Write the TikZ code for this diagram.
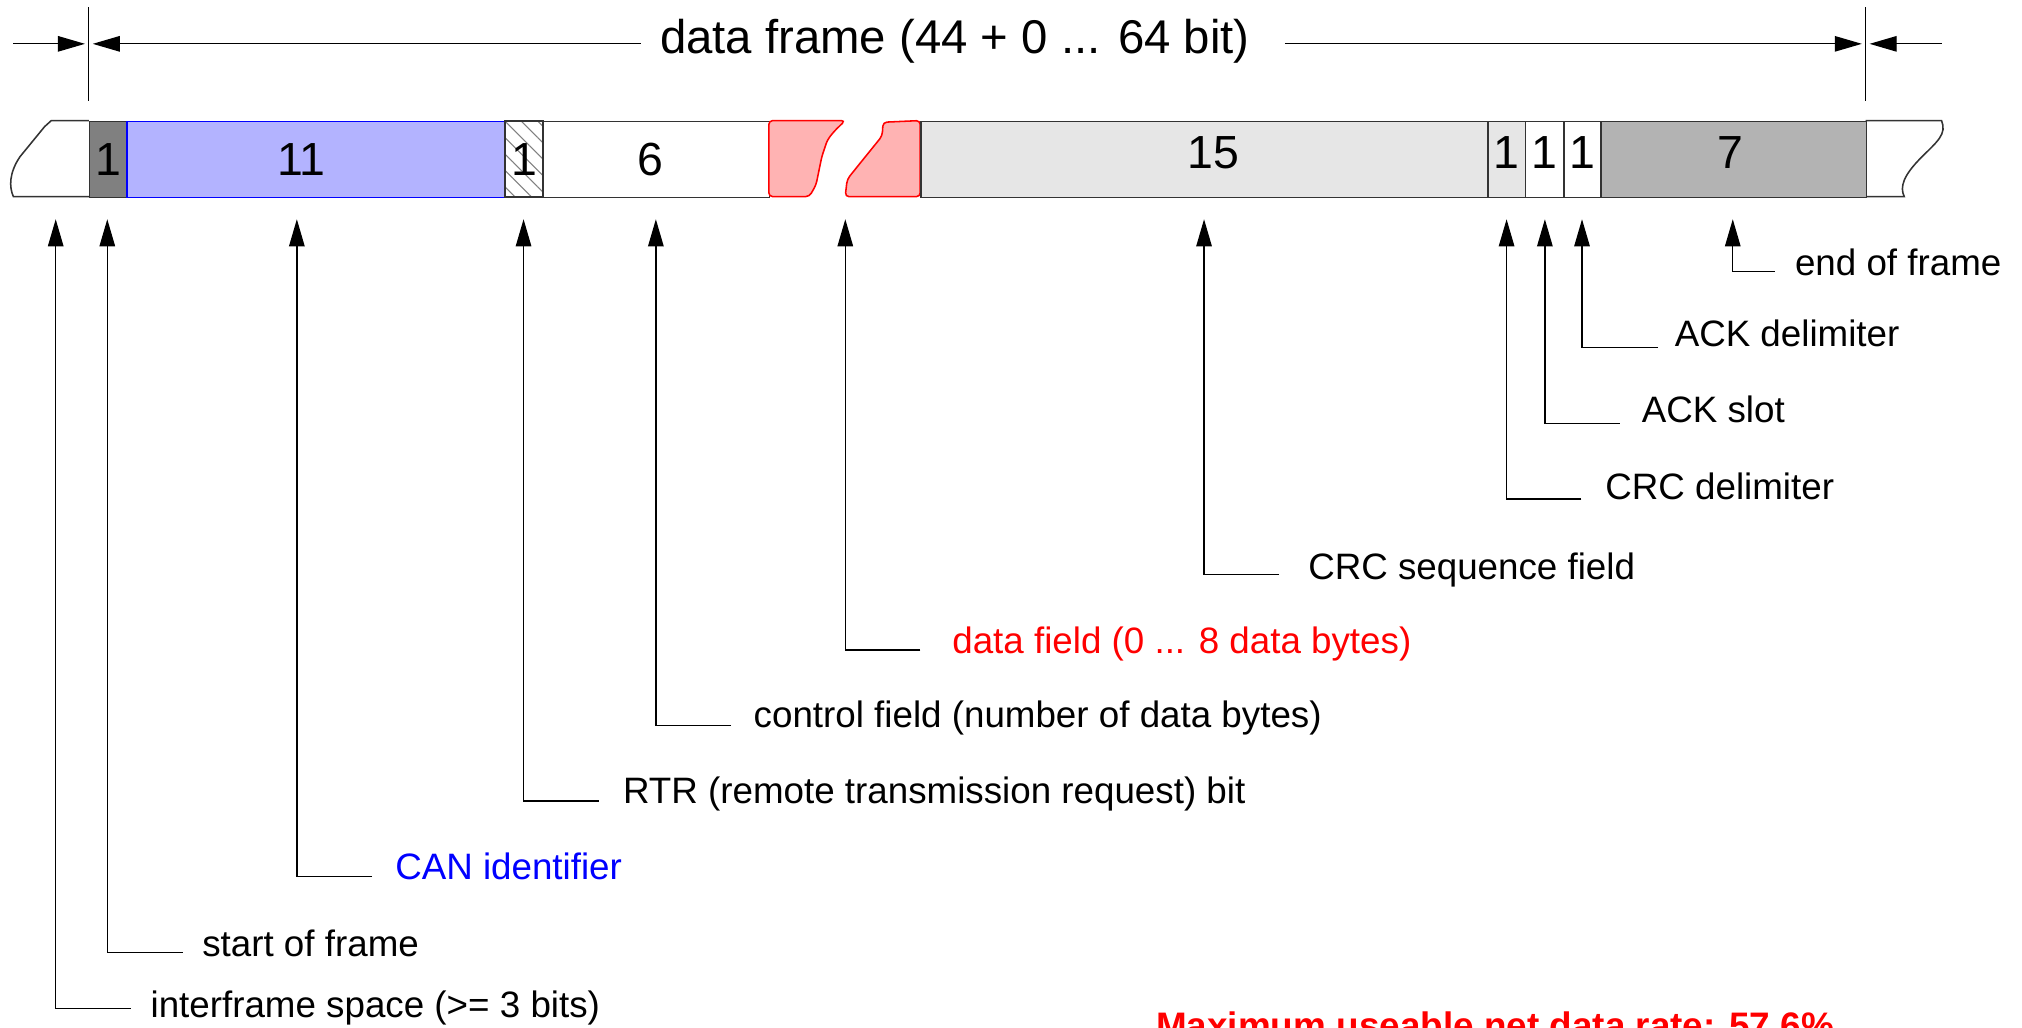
\documentclass[tikz,border=0pt]{standalone}
\usepackage{fontspec}
\setmainfont{Liberation Sans}
\usetikzlibrary{arrows.meta,patterns.meta}
\definecolor{sofgray}{HTML}{808080}
\definecolor{idfill}{HTML}{B3B3FF}
\definecolor{datafill}{HTML}{FFB3B3}
\definecolor{crcfill}{HTML}{E6E6E6}
\definecolor{eoffill}{HTML}{B3B3B3}
\definecolor{edge}{HTML}{333333}
\begin{document}
\begin{tikzpicture}[x=1pt,y=-1pt,
  field/.style={draw=edge,line width=1.2pt,inner sep=0pt,minimum height=59pt,anchor=north west,font=\fontsize{36}{40}\selectfont},
  lab/.style={anchor=base west,inner sep=0pt,font=\fontsize{28.5}{32}\selectfont},
  pointer/.style={draw=black,line width=1pt,-{Triangle[length=21pt,width=12pt]}},
  dimline/.style={line width=1pt,-{Triangle[length=21pt,width=12pt]}},
  tick/.style={line width=1pt}
]
\clip (0,0) rectangle (1568,797);
\fill[white] (0,0) rectangle (1568,797);

% ---- title dimension line ----
\node[inner sep=0pt,anchor=base,font=\fontsize{36.7}{40}\selectfont] (title) at (740.5,41.4) {data frame (44 + 0 ... 64 bit)};
\coordinate (tickLt) at (68.9,5.7);
\coordinate (tickLb) at (68.9,78.3);
\coordinate (tickRt) at (1446.8,5.7);
\coordinate (tickRb) at (1446.8,78.3);
\draw[tick] (tickLt) -- (tickLb);
\draw[tick] (tickRt) -- (tickRb);
\coordinate (dA0) at (10.4,34);   \coordinate (dA1) at (65.9,34);
\coordinate (dB0) at (496.8,34);  \coordinate (dB1) at (71.9,34);
\coordinate (dC0) at (996.4,34);  \coordinate (dC1) at (1443.8,34);
\coordinate (dD0) at (1505.6,34); \coordinate (dD1) at (1449.8,34);
\draw[dimline] (dA0) -- (dA1);
\draw[dimline] (dB0) -- (dB1);
\draw[dimline] (dC0) -- (dC1);
\draw[dimline] (dD0) -- (dD1);

% ---- frame bar ----
\draw[edge,line width=1.2pt,fill=white] (68.9,93.5) -- (39.8,93.5) -- (34.6,98.2) -- (15.6,121.4)
  .. controls (7,134) and (7,145) .. (10.4,152.5) -- (68.9,152.5);
\draw[edge,line width=1.2pt,fill=white] (1446.8,93.5) -- (1505.6,93.5)
  .. controls (1510,104) and (1502,110) .. (1490,122) .. controls (1476,136) and (1473,145) .. (1476.7,152.5) -- (1446.8,152.5);

\node[field,fill=sofgray,minimum width=29.1pt] (sof) at (68.9,93.5) {1};
\node[field,fill=idfill,draw=blue,minimum width=293.3pt] (id) at (98,93.5) {\hspace*{-23pt}11};
\node[field,preaction={fill=white},pattern={Lines[angle=-45,distance=9pt,line width=0.8pt]},pattern color=gray,minimum width=29.4pt] (rtr) at (391.3,93.5) {};
\node[font=\fontsize{36}{40}\selectfont,inner sep=0pt] (rtrnum) at (rtr.center) {1};
\node[field,fill=white,minimum width=175.5pt] (ctrl) at (420.7,93.5) {\hspace*{-10pt}6};

\draw[red,fill=datafill,line width=1.2pt,rounded corners=3pt] (596.2,152.5) -- (596.2,93.5) -- (655.4,93.5) -- (646.7,102)
  -- (641.6,108.5) -- (637.3,121.4) -- (632.8,143.4) -- (627.6,152.5) -- cycle;
\draw[red,fill=datafill,line width=1.2pt,rounded corners=3pt] (713.6,152.5) -- (713.6,93.5) -- (684.8,94.8) -- (684.1,105.4)
  -- (667.6,125.8) -- (657,139) -- (655.4,152.5) -- cycle;

\node[field,fill=crcfill,minimum width=439.6pt] (crc) at (713.6,93.5) {\hspace*{14pt}\raisebox{10pt}{15}};
\node[field,fill=crcfill,minimum width=29.3pt] (crcdel) at (1153.2,93.5) {\raisebox{10pt}{1}};
\node[field,fill=white,minimum width=29.6pt] (ackslot) at (1182.5,93.5) {\raisebox{10pt}{1}};
\node[field,fill=white,minimum width=28.9pt] (ackdel) at (1212.1,93.5) {\raisebox{10pt}{1}};
\node[field,fill=eoffill,minimum width=205.8pt] (eof) at (1241,93.5) {\hspace*{-6pt}\raisebox{10pt}{7}};

% ---- labels and pointers ----
\node[lab] (leof) at (1391.8,214) {end of frame};
\coordinate (eofT) at (1343.7,170); \coordinate (eofE) at (1376.3,210.7);
\draw[pointer] (eofE) -| (eofT);

\node[lab] (lackdel) at (1298.5,268.5) {ACK delimiter};
\coordinate (ackdelT) at (1226.8,170); \coordinate (ackdelE) at (1285.8,269.4);
\draw[pointer] (ackdelE) -| (ackdelT);

\node[lab] (lackslot) at (1273,327.5) {ACK slot};
\coordinate (ackslotT) at (1198,170); \coordinate (ackslotE) at (1256,328.3);
\draw[pointer] (ackslotE) -| (ackslotT);

\node[lab] (lcrcdel) at (1244.7,387) {CRC delimiter};
\coordinate (crcdelT) at (1168.3,170); \coordinate (crcdelE) at (1226.3,387);
\draw[pointer] (crcdelE) -| (crcdelT);

\node[lab] (lcrc) at (1014.3,449) {CRC sequence field};
\coordinate (crcT) at (933.7,170); \coordinate (crcE) at (992,445.4);
\draw[pointer] (crcE) -| (crcT);

\node[lab,text=red] (ldata) at (738.3,507) {data field (0 ... 8 data bytes)};
\coordinate (dataT) at (655.5,170); \coordinate (dataE) at (713.8,504);
\draw[pointer] (dataE) -| (dataT);

\node[lab] (lctrl) at (584.3,564) {control field (number of data bytes)};
\coordinate (ctrlT) at (508.6,170); \coordinate (ctrlE) at (566.9,562.7);
\draw[pointer] (ctrlE) -| (ctrlT);

\node[lab] (lrtr) at (483,623) {RTR (remote transmission request) bit};
\coordinate (rtrT) at (406,170); \coordinate (rtrE) at (464.3,621.2);
\draw[pointer] (rtrE) -| (rtrT);

\node[lab,text=blue] (lid) at (306.3,682) {CAN identifier};
\coordinate (idT) at (230.2,170); \coordinate (idE) at (288.5,679.8);
\draw[pointer] (idE) -| (idT);

\node[lab] (lsof) at (156.7,741.5) {start of frame};
\coordinate (sofT) at (83.2,170); \coordinate (sofE) at (141.6,738.5);
\draw[pointer] (sofE) -| (sofT);

\node[lab] (lifs) at (116.6,789) {interframe space (>= 3 bits)};
\coordinate (ifsT) at (43.2,170); \coordinate (ifsE) at (101.5,782);
\draw[pointer] (ifsE) -| (ifsT);

\node[anchor=base west,inner sep=0pt,text=red,font=\bfseries\fontsize{28.6}{32}\selectfont] (rate) at (896.4,805) {Maximum useable net data rate: 57.6\%};
\end{tikzpicture}
\end{document}
